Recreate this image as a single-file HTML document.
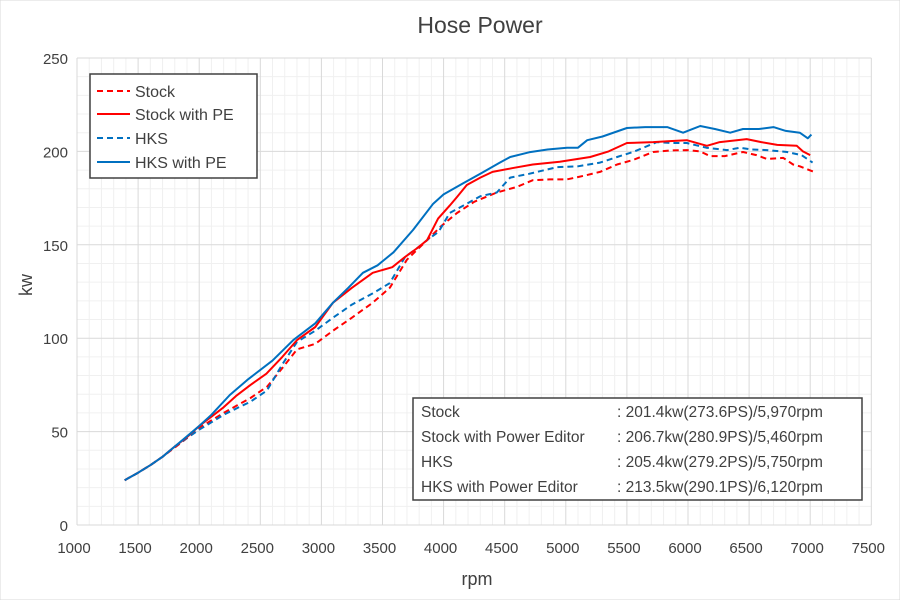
<!DOCTYPE html>
<html><head><meta charset="utf-8"><style>
body{margin:0;background:#fff;}
svg text{font-family:"Liberation Sans","DejaVu Sans",sans-serif;fill:#404040;}
</style></head><body>
<svg id="chart" width="900" height="600" viewBox="0 0 900 600" xmlns="http://www.w3.org/2000/svg">
<rect width="900" height="600" fill="#fff" stroke="#d9d9d9"/>
<text x="480" y="33" font-size="23" text-anchor="middle">Hose Power</text>
<g id="grid"></g><g id="axes"></g><g id="series"></g>
<text transform="translate(32,285) rotate(-90)" font-size="18" text-anchor="middle">kw</text>
<text x="477" y="585" font-size="18" text-anchor="middle">rpm</text>
<g>
<rect x="90" y="74" width="167" height="104" fill="#fff" stroke="#404040" stroke-width="1.5"/>
<line x1="97" y1="91" x2="130" y2="91" stroke="#ff0000" stroke-width="2" stroke-dasharray="6,4"/>
<text x="135" y="97" font-size="16">Stock</text>
<line x1="97" y1="114" x2="130" y2="114" stroke="#ff0000" stroke-width="2"/>
<text x="135" y="120" font-size="16">Stock with PE</text>
<line x1="97" y1="138" x2="130" y2="138" stroke="#0070c0" stroke-width="2" stroke-dasharray="6,4"/>
<text x="135" y="144" font-size="16">HKS</text>
<line x1="97" y1="162" x2="130" y2="162" stroke="#0070c0" stroke-width="2"/>
<text x="135" y="168" font-size="16">HKS with PE</text>
</g>
<g font-size="15.5">
<rect x="413" y="398" width="449" height="102" fill="#fff" stroke="#404040" stroke-width="1.5"/>
<text x="421" y="417">Stock</text><text x="617" y="417">: 201.4kw(273.6PS)/5,970rpm</text>
<text x="421" y="442">Stock with Power Editor</text><text x="617" y="442">: 206.7kw(280.9PS)/5,460rpm</text>
<text x="421" y="467">HKS</text><text x="617" y="467">: 205.4kw(279.2PS)/5,750rpm</text>
<text x="421" y="492">HKS with Power Editor</text><text x="617" y="492">: 213.5kw(290.1PS)/6,120rpm</text>
</g>
</svg>
<script>
const xTicks=[1000,1500,2000,2500,3000,3500,4000,4500,5000,5500,6000,6500,7000,7500];
const yTicks=[0,50,100,150,200,250];
const stockRpm=[1390,1500,1600,1700,1800,1900,2000,2100,2200,2310,2420,2555,2680,2800,2950,3095,3250,3420,3560,3700,3865,3980,4110,4250,4435,4600,4730,4870,5010,5150,5280,5420,5550,5715,5850,5990,6100,6180,6300,6450,6560,6645,6780,6860,6915,7030];
const stockKw=[24,28,32,36.5,41.5,46.5,52,56,60,64,68,74,84,94,97,104,111,119,127,142,152.5,160,167,173,178,181,184.6,185,185,187,189,193,195.4,199.7,200.5,200.7,200,197.5,197.5,199.7,198,196,196.5,193,192,189];
const stockPeRpm=[1390,1500,1600,1700,1800,1900,2000,2100,2200,2300,2420,2550,2680,2800,2950,3095,3250,3420,3580,3685,3780,3865,3955,4050,4110,4190,4300,4400,4560,4730,4950,5200,5350,5500,5715,5850,5990,6155,6260,6480,6600,6730,6890,6940,7000];
const stockPeKw=[24,28,32,36.5,42,47,53,58,63,69,75,81,90,99,106,119,127,135,138,143.5,148,152.5,164,171,175.6,182,186,189,191,193,194.5,197,200,204.5,205,205.5,206,203,205,206.6,205,203.5,203,200,198];
const hksRpm=[1390,1500,1600,1700,1800,1900,2000,2100,2200,2310,2420,2555,2680,2800,2950,3095,3250,3420,3560,3685,3780,3865,3960,4050,4190,4300,4435,4545,4700,4930,5100,5280,5420,5550,5745,5870,5990,6150,6320,6425,6520,6645,6810,6930,7020];
const hksKw=[24,28,32,36.5,42,46.5,51,55,59,62.6,66,72,86,98,104,111,118,124,129.5,143.5,148,152.5,157,167,172,176,178,186,188,191.6,192,194,197,199.7,205,204.5,204.5,202,200.7,202,201,200.7,199.7,198,194];
const hksPeRpm=[1390,1500,1600,1700,1800,1900,2000,2100,2250,2400,2600,2770,2950,3095,3220,3340,3460,3590,3750,3915,4000,4160,4300,4460,4545,4700,4850,5010,5100,5175,5300,5500,5650,5830,5960,6100,6220,6345,6450,6580,6700,6800,6915,6980,7010];
const hksPeKw=[24,28,32,36.5,42,47.5,53,59,69.6,78,88,99,108,119,127,135,139,146,158,172,177,183,188,194,197,199.5,201,202,202,206,208,212.5,213,213,210,213.6,212,210,212,212,213,211,210,207,209];

const X=r=>77+(r-1000)*0.1222, Y=v=>525-v*1.868;
const NS='http://www.w3.org/2000/svg';
function mk(tag,parent,attrs){const e=document.createElementNS(NS,tag);for(const k in attrs)e.setAttribute(k,attrs[k]);parent.appendChild(e);return e;}
const grid=document.getElementById('grid'),axes=document.getElementById('axes'),ser=document.getElementById('series');
for(let r=1000;r<=7500;r+=100){if(r%500===0)continue;const l=mk('line',grid,{x1:X(r),x2:X(r),y1:Y(250),y2:Y(0),stroke:'#f0f0f0','stroke-width':1});

}
for(let v=0;v<=250;v+=10){if(v%50===0)continue;const l=mk('line',grid,{x1:X(1000),x2:X(7500),y1:Y(v),y2:Y(v),stroke:'#f0f0f0','stroke-width':1});

}
xTicks.forEach(r=>{const l=mk('line',grid,{x1:X(r),x2:X(r),y1:Y(250),y2:Y(0),stroke:'#d9d9d9','stroke-width':1});


const t=mk('text',axes,{x:X(r)-3,y:553,'font-size':15,'text-anchor':'middle'});t.textContent=r;

});
yTicks.forEach(v=>{const l=mk('line',grid,{x1:X(1000),x2:X(7500),y1:Y(v),y2:Y(v),stroke:'#d9d9d9','stroke-width':1});


const t=mk('text',axes,{x:68,y:Y(v)+6,'font-size':15,'text-anchor':'end'});t.textContent=v;

});
function draw(rs,vs,color,dash,name){const d=rs.map((r,i)=>(i?'L':'M')+X(r).toFixed(1)+','+Y(vs[i]).toFixed(1)).join('');
const p=mk('path',ser,{d:d,fill:'none',stroke:color,'stroke-width':2,'stroke-linejoin':'round'});
if(dash)p.setAttribute('stroke-dasharray','6,4');

}
draw(stockRpm,stockKw,'#ff0000',true,'stock-line');
draw(hksRpm,hksKw,'#0070c0',true,'hks-line');
draw(stockPeRpm,stockPeKw,'#ff0000',false,'stock-pe-line');
draw(hksPeRpm,hksPeKw,'#0070c0',false,'hks-pe-line');
</script>
</body></html>
